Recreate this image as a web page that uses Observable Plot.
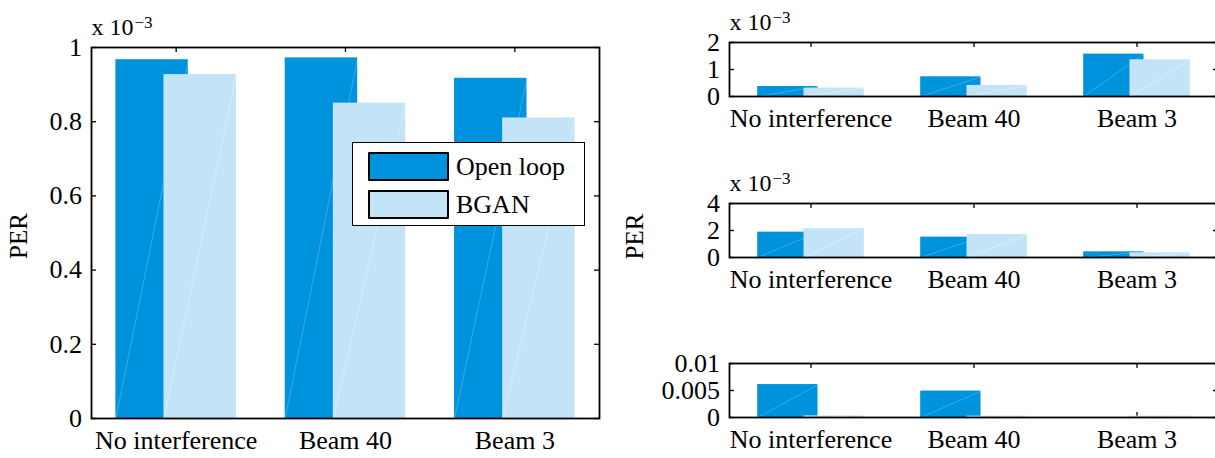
<!DOCTYPE html>
<html><head><meta charset="utf-8">
<script src="https://cdn.jsdelivr.net/npm/d3@7"></script>
<script src="https://cdn.jsdelivr.net/npm/@observablehq/plot@0.6"></script>
<style>
body{margin:0;background:#fff;}
#root{position:relative;width:1215px;height:458px;overflow:hidden;font-family:'Liberation Serif','Times New Roman',serif;color:#000;}
.panel{position:absolute;}
.legend{position:absolute;left:352px;top:142px;width:231px;height:82px;border:1.5px solid #000;background:#fff;}
.legend .row{position:absolute;left:15px;display:flex;align-items:center;font-family:'Liberation Serif',serif;font-size:26px;line-height:28px;white-space:nowrap;}
.legend .sw{width:77px;height:25px;border:2px solid #000;border-radius:1px;margin-right:7px;}
</style></head><body><div id="root"></div>
<script>
// ---- data ----
const categories = ["No interference", "Beam 40", "Beam 3"];
const seriesNames = ["Open loop", "BGAN"];
const seriesColors = ["#0093DD", "#C2E4F6"];

// left panel (values in units of 10^-3)
const leftOpenLoop = [0.967, 0.972, 0.917];
const leftBGAN = [0.927, 0.850, 0.810];
const leftTicks = [0, 0.2, 0.4, 0.6, 0.8, 1];

// right top panel (units of 10^-3)
const topOpenLoop = [0.37, 0.73, 1.57];
const topBGAN = [0.31, 0.41, 1.36];
const topTicks = [0, 1, 2];

// right middle panel (units of 10^-3)
const midOpenLoop = [1.88, 1.51, 0.42];
const midBGAN = [2.13, 1.70, 0.35];
const midTicks = [0, 2, 4];

// right bottom panel (absolute values)
const botOpenLoop = [0.0061, 0.0049, 0];
const botBGAN = [0.0003, 0.00025, 0.00025];
const botTicks = [0, 0.005, 0.01];
const botTickLabels = ["0", "0.005", "0.01"];

const yLabel = "PER";
const exponentBase = "x 10";
const exponentPower = "\u22123";

// ---- drawing ----
const FONT = "'Liberation Serif', 'Times New Roman', serif";

function rowsFor(values, s, w, off) {
  return values.map((v, i) => {
    const c = i + 1 + (s === 0 ? -off : off);
    return {category: categories[i], series: seriesNames[s], x1: c - w / 2, x2: c + w / 2, v};
  });
}

function panel(o) {
  const innerW = o.width - o.ml - o.mr;
  const innerH = o.height - o.mt - o.mb;
  const open = rowsFor(o.open, 0, o.bw, o.off);
  const bgan = rowsFor(o.bgan, 1, o.bw, o.off);
  const catTicks = [1, 2, 3];
  const marks = [
    Plot.tickY(o.ticks, {y: d => d, insetRight: innerW - 5, stroke: "black", strokeWidth: 1.3}),
    Plot.tickY(o.ticks, {y: d => d, insetLeft: innerW - 5, stroke: "black", strokeWidth: 1.3}),
    Plot.tickX(catTicks, {x: d => d, insetBottom: innerH - 5, stroke: "black", strokeWidth: 1.3}),
    Plot.tickX(catTicks, {x: d => d, insetTop: innerH - 5, stroke: "black", strokeWidth: 1.3}),
    Plot.rect(open, {x1: "x1", x2: "x2", y1: 0, y2: "v", fill: seriesColors[0]}),
    Plot.link(open, {x1: "x1", y1: 0, x2: "x2", y2: "v", stroke: "white", strokeOpacity: 0.28, strokeWidth: 0.8}),
    Plot.rect(bgan, {x1: "x1", x2: "x2", y1: 0, y2: "v", fill: seriesColors[1]}),
    Plot.link(bgan, {x1: "x1", y1: 0, x2: "x2", y2: "v", stroke: "white", strokeOpacity: 0.45, strokeWidth: 0.8}),
    Plot.frame({stroke: "black", strokeWidth: 1.8})
  ];
  if (o.exponent) {
    marks.push(Plot.text([exponentBase], {text: d => d, frameAnchor: "top-left", textAnchor: "start", lineAnchor: "bottom", dy: -12.5, fontSize: 24}));
    marks.push(Plot.text([exponentPower], {text: d => d, frameAnchor: "top-left", textAnchor: "start", lineAnchor: "bottom", dx: 43, dy: -20, fontSize: 17}));
  }
  if (o.perDx !== undefined) {
    marks.push(Plot.text([yLabel], {text: d => d, frameAnchor: "left", textAnchor: "middle", lineAnchor: "middle", rotate: -90, dx: o.perDx, dy: o.perDy, fontSize: 25}));
  }
  const svg = Plot.plot({
    width: o.width, height: o.height,
    marginLeft: o.ml, marginRight: o.mr, marginTop: o.mt, marginBottom: o.mb,
    style: {fontFamily: FONT, fontSize: "26px", color: "black", background: "transparent", overflow: "visible"},
    x: {domain: [0.5, 3.5], ticks: catTicks, tickFormat: i => categories[i - 1], tickSize: 0, tickPadding: 12, label: null},
    y: {domain: [o.ticks[0], o.ticks[o.ticks.length - 1]], ticks: o.ticks, tickFormat: o.tickFormat, tickSize: 0, tickPadding: 9.5, label: null},
    marks
  });
  svg.classList.add("panel");
  svg.style.left = o.left + "px";
  svg.style.top = o.top + "px";
  return svg;
}

const root = document.getElementById("root");

root.appendChild(panel({
  left: 0, top: 0, width: 620, height: 458, ml: 91, mr: 21, mt: 47, mb: 40,
  open: leftOpenLoop, bgan: leftBGAN, ticks: leftTicks, tickFormat: d => String(d),
  bw: 0.428, off: 0.142, exponent: true, perDx: -73, perDy: 3
}));
root.appendChild(panel({
  left: 620, top: 0, width: 620, height: 152, ml: 109, mr: 22, mt: 42, mb: 56,
  open: topOpenLoop, bgan: topBGAN, ticks: topTicks, tickFormat: d => String(d),
  bw: 0.37, off: 0.142, exponent: true
}));
root.appendChild(panel({
  left: 620, top: 152, width: 620, height: 152, ml: 109, mr: 22, mt: 51, mb: 47,
  open: midOpenLoop, bgan: midBGAN, ticks: midTicks, tickFormat: d => String(d),
  bw: 0.37, off: 0.142, exponent: true, perDx: -95, perDy: 6
}));
root.appendChild(panel({
  left: 620, top: 304, width: 620, height: 154, ml: 109, mr: 22, mt: 59, mb: 41,
  open: botOpenLoop, bgan: botBGAN, ticks: botTicks, tickFormat: d => botTickLabels[botTicks.indexOf(d)],
  bw: 0.37, off: 0.142, exponent: false
}));

// legend (inside the left axes)
const legend = document.createElement("div");
legend.className = "legend";
seriesNames.forEach((name, i) => {
  const row = document.createElement("div");
  row.className = "row";
  row.style.top = (i === 0 ? 9 : 47) + "px";
  const sw = document.createElement("div");
  sw.className = "sw";
  sw.style.background = seriesColors[i];
  const t = document.createElement("span");
  t.textContent = name;
  row.appendChild(sw);
  row.appendChild(t);
  legend.appendChild(row);
});
root.appendChild(legend);
</script>
</body></html>
